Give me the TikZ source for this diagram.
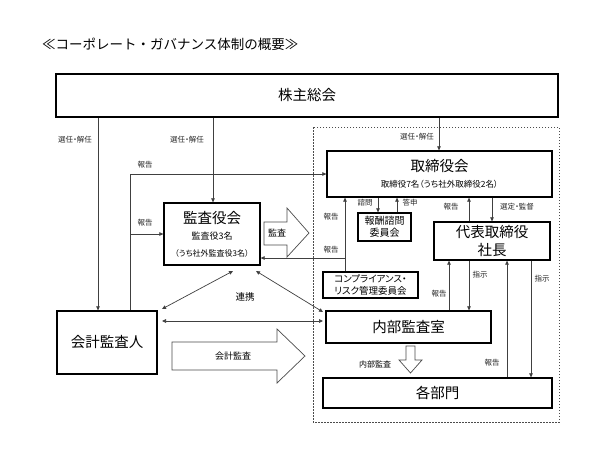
\documentclass[tikz,border=0pt]{standalone}
\usepackage{fontspec}
\setmainfont{Noto Sans CJK JP}[RawFeature=+palt]
\newfontfamily\titlefont{Noto Sans CJK JP}
\usetikzlibrary{arrows.meta}
\begin{document}
\begin{tikzpicture}[x=1pt,y=-1pt,
  box/.style={draw=black,line width=1.3pt,fill=white,inner sep=0pt,align=center,font=\fontsize{14.5}{18}\selectfont},
  conn/.style={draw=black!75,line width=0.7pt},
  arr/.style={conn,-{Triangle[length=4pt,width=3.6pt]}},
  darr/.style={conn,{Triangle[length=4pt,width=3.6pt]}-{Triangle[length=4pt,width=3.6pt]}},
  lbl/.style={inner sep=0pt,font=\fontsize{7.5}{9}\selectfont,text=black!85},
  hollow/.style={draw=black!70,line width=0.7pt,fill=white}]
\useasboundingbox (0,0) rectangle (604,453);
\fill[white] (0,0) rectangle (604,453);

% title
\node[inner sep=0pt,anchor=west,font=\titlefont\fontsize{13.5}{16}\selectfont] (title) at (42,44) {≪コーポレート・ガバナンス体制の概要≫};

% dotted region
\draw[draw=black!70,line width=0.7pt,dash pattern=on 1.5pt off 1.5pt] (313,127) rectangle (559,422);

% boxes
\node[box,minimum width=502pt,minimum height=43pt] (kabu) at (307,95.5) {株主総会};
\node[box,minimum width=225pt,minimum height=46pt] (tori) at (439.5,174) {取締役会\\[-2pt]{\fontsize{8.5}{10}\selectfont 取締役7名（うち社外取締役2名）}};
\node[box,minimum width=96pt,minimum height=62pt] (kansa) at (212,234) {監査役会\\[-2pt]{\fontsize{9}{10}\selectfont 監査役3名}\\[-1pt]{\fontsize{8}{10}\selectfont （うち社外監査役3名）}};
\node[box,minimum width=53pt,minimum height=28pt,font=\fontsize{10}{12}\selectfont] (houshu) at (384.5,227) {報酬諮問\\委員会};
\node[box,minimum width=95pt,minimum height=26pt,font=\fontsize{9.5}{11.5}\selectfont] (comp) at (370.5,285) {コンプライアンス・\\リスク管理委員会};
\node[box,minimum width=116pt,minimum height=38pt,font=\fontsize{14.5}{18}\selectfont] (shacho) at (492,241) {代表取締役\\社長};
\node[box,minimum width=165pt,minimum height=32pt] (naibu) at (408.5,327) {内部監査室};
\node[box,minimum width=229pt,minimum height=30pt] (kakubu) at (437.5,393) {各部門};
\node[box,minimum width=100pt,minimum height=63pt] (kaikei) at (107,342.5) {会計監査人};

% x positions of vertical connectors
\coordinate (xA) at (98,0);
\coordinate (xB) at (213,0);
\coordinate (xC) at (439,0);
\coordinate (xR) at (130,0);
\coordinate (xK) at (345,0);
\coordinate (xS1) at (378,0);
\coordinate (xS2) at (397,0);
\coordinate (xT1) at (469,0);
\coordinate (xT2) at (492,0);
\coordinate (xN1) at (449,0);
\coordinate (xN2) at (469,0);
\coordinate (xD1) at (507,0);
\coordinate (xD2) at (531,0);
\coordinate (yR) at (0,174);
\coordinate (yR2) at (0,234);
\coordinate (yK) at (0,258);

% 選任・解任
\draw[arr] (kabu.south -| xA) -- (kaikei.north -| xA);
\node[lbl] (l1) at (75,140) {選任・解任};
\draw[arr] (kabu.south -| xB) -- (kansa.north -| xB);
\node[lbl] (l2) at (187,140) {選任・解任};
\draw[arr] (kabu.south -| xC) -- (tori.north -| xC);
\node[lbl] (l3) at (417,137) {選任・解任};

% 報告 from 会計監査人
\draw[arr] (kaikei.north -| xR) -- (xR |- yR) -- (tori.west |- yR);
\draw[arr] (xR |- yR2) -- (kansa.west |- yR2);
\node[lbl] (l4) at (145,165) {報告};
\node[lbl] (l5) at (145,223) {報告};

% 監査 arrow
\draw[hollow] (264,222) -- (287,222) -- (287,208) -- (309,233) -- (287,257) -- (287,245) -- (264,245) -- cycle;
\node[inner sep=0pt,font=\fontsize{9}{10}\selectfont] (l6) at (277,233) {監査};

% compliance reports
\draw[arr] (comp.north -| xK) -- (tori.south -| xK);
\draw[arr] (xK |- yK) -- (kansa.east |- yK);
\node[lbl] (l7) at (331,217) {報告};
\node[lbl] (l8) at (331,250) {報告};

% 諮問 / 答申
\draw[arr] (tori.south -| xS1) -- (houshu.north -| xS1);
\draw[arr] (houshu.north -| xS2) -- (tori.south -| xS2);
\node[lbl] (l9) at (365,203) {諮問};
\node[lbl] (l10) at (410,203) {答申};

% 取締役会 <-> 社長
\draw[arr] (shacho.north -| xT1) -- (tori.south -| xT1);
\draw[arr] (tori.south -| xT2) -- (shacho.north -| xT2);
\node[lbl] (l11) at (451,207) {報告};
\node[lbl] (l12) at (517,207) {選定・監督};

% 社長 <-> 内部監査室
\draw[arr] (naibu.north -| xN1) -- (shacho.south -| xN1);
\draw[arr] (shacho.south -| xN2) -- (naibu.north -| xN2);
\node[lbl] (l13) at (439,294) {報告};
\node[lbl] (l14) at (480,275) {指示};

% 社長 <-> 各部門
\draw[arr] (kakubu.north -| xD1) -- (shacho.south -| xD1);
\draw[arr] (shacho.south -| xD2) -- (kakubu.north -| xD2);
\node[lbl] (l15) at (492,363) {報告};
\node[lbl] (l16) at (542,279) {指示};

% 内部監査 arrow
\draw[hollow] (406,346) -- (415,346) -- (415,360) -- (422,360) -- (410.5,373) -- (399,360) -- (406,360) -- cycle;
\node[inner sep=0pt,font=\fontsize{8}{9}\selectfont] (l17) at (375,364) {内部監査};

% 会計監査 arrow
\draw[hollow] (172,342) -- (277,342) -- (277,329) -- (305,356) -- (277,383) -- (277,370) -- (172,370) -- cycle;
\node[inner sep=0pt,font=\fontsize{9}{10}\selectfont] (l18) at (233,356) {会計監査};

% 連携
\coordinate (r1) at (233,271);
\coordinate (r2) at (162,309);
\coordinate (r3) at (256,271);
\coordinate (r4) at (323,312);
\coordinate (r5) at (162,321);
\coordinate (r6) at (323,321);
\draw[darr] (r1) -- (r2);
\draw[darr] (r3) -- (r4);
\draw[darr] (r5) -- (r6);
\node[inner sep=0pt,font=\fontsize{9.5}{11}\selectfont] (l19) at (245,297) {連携};
\end{tikzpicture}
\end{document}
